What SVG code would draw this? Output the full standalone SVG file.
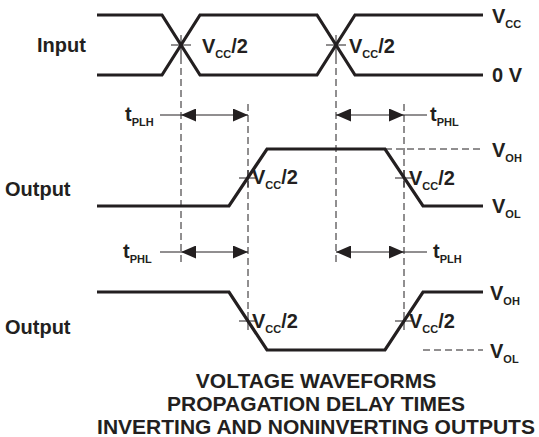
<svg xmlns="http://www.w3.org/2000/svg" width="539" height="437" viewBox="0 0 539 437">
<defs>
<style>
text{font-family:"Liberation Sans",Arial,sans-serif;font-weight:bold;fill:#231f20}
.lbl{font-size:20px}
.sub{font-size:11px}
.ttl{font-size:21px;text-anchor:middle}
.wave{fill:none;stroke:#231f20;stroke-width:3.2;stroke-linejoin:miter}
.dash{fill:none;stroke:#231f20;stroke-width:1;stroke-dasharray:7,4}
.thin{fill:none;stroke:#231f20;stroke-width:1}
</style>
<marker id="ah" viewBox="0 0 15 13" refX="15" refY="6.5" markerWidth="15" markerHeight="13" markerUnits="userSpaceOnUse" orient="auto-start-reverse">
<path d="M0,0 L15,6.5 L0,13 Z" fill="#231f20"/>
</marker>
</defs>
<rect width="539" height="437" fill="#fff"/>

<g id="input">
<path class="wave" d="M97,15 H162 L200,75 H317 L355,15 H483"/>
<path class="wave" d="M97,75 H162 L200,15 H317 L355,75 H483"/>
<text class="lbl" x="37" y="52">Input</text>
<text class="lbl" x="492" y="23">V<tspan class="sub" dy="5">CC</tspan></text>
<text class="lbl" x="492" y="82">0 V</text>
<text class="lbl" x="202" y="53">V<tspan class="sub" dy="5">CC</tspan><tspan dy="-5">/2</tspan></text>
<text class="lbl" x="349" y="53">V<tspan class="sub" dy="5">CC</tspan><tspan dy="-5">/2</tspan></text>
</g>

<g id="output1">
<path class="wave" d="M97,206 H229 L267,149 H385 L423,206 H483"/>
<text class="lbl" x="5" y="196">Output</text>
<text class="lbl" x="492" y="157">V<tspan class="sub" dy="5">OH</tspan></text>
<text class="lbl" x="492" y="213">V<tspan class="sub" dy="5">OL</tspan></text>
<text class="lbl" x="252" y="184">V<tspan class="sub" dy="5">CC</tspan><tspan dy="-5">/2</tspan></text>
<text class="lbl" x="409" y="185">V<tspan class="sub" dy="5">CC</tspan><tspan dy="-5">/2</tspan></text>
</g>

<g id="output2">
<path class="wave" d="M97,292 H229 L267,350 H385 L423,292 H483"/>
<text class="lbl" x="5" y="334">Output</text>
<text class="lbl" x="490" y="300">V<tspan class="sub" dy="5">OH</tspan></text>
<text class="lbl" x="490" y="358">V<tspan class="sub" dy="5">OL</tspan></text>
<text class="lbl" x="252" y="328">V<tspan class="sub" dy="5">CC</tspan><tspan dy="-5">/2</tspan></text>
<text class="lbl" x="409" y="328">V<tspan class="sub" dy="5">CC</tspan><tspan dy="-5">/2</tspan></text>
</g>

<g id="timing-labels">
<text class="lbl" x="125" y="121">t<tspan class="sub" dy="5">PLH</tspan></text>
<text class="lbl" x="430" y="121">t<tspan class="sub" dy="5">PHL</tspan></text>
<text class="lbl" x="123" y="258">t<tspan class="sub" dy="5">PHL</tspan></text>
<text class="lbl" x="433" y="258">t<tspan class="sub" dy="5">PLH</tspan></text>
</g>

<g id="connectors">
<path class="dash" d="M181,57 V263"/>
<path class="dash" d="M336,57 V263"/>
<path class="dash" d="M248,104 V312"/>
<path class="dash" d="M404,104 V312"/>
<path class="dash" d="M385,149 H483"/>
<path class="dash" d="M423,350 H483"/>
<path class="thin" d="M171,45 H191 M181,35 V57 M326,45 H346 M336,35 V57"/>
<path class="thin" d="M239,178 H257 M248,170 V187 M395,178 H413 M404,170 V187"/>
<path class="thin" d="M239,321 H257 M248,312 V330 M395,321 H413 M404,312 V330"/>
<path class="thin" d="M160,115 H181 M404,115 H427 M160,252 H181 M404,252 H427"/>
<path class="thin" marker-start="url(#ah)" marker-end="url(#ah)" d="M181,115 H248"/>
<path class="thin" marker-start="url(#ah)" marker-end="url(#ah)" d="M336,115 H404"/>
<path class="thin" marker-start="url(#ah)" marker-end="url(#ah)" d="M181,252 H248"/>
<path class="thin" marker-start="url(#ah)" marker-end="url(#ah)" d="M336,252 H404"/>
</g>

<g id="title">
<text class="ttl" x="316" y="388">VOLTAGE WAVEFORMS</text>
<text class="ttl" x="316" y="411">PROPAGATION DELAY TIMES</text>
<text class="ttl" x="316" y="434">INVERTING AND NONINVERTING OUTPUTS</text>
</g>
</svg>
